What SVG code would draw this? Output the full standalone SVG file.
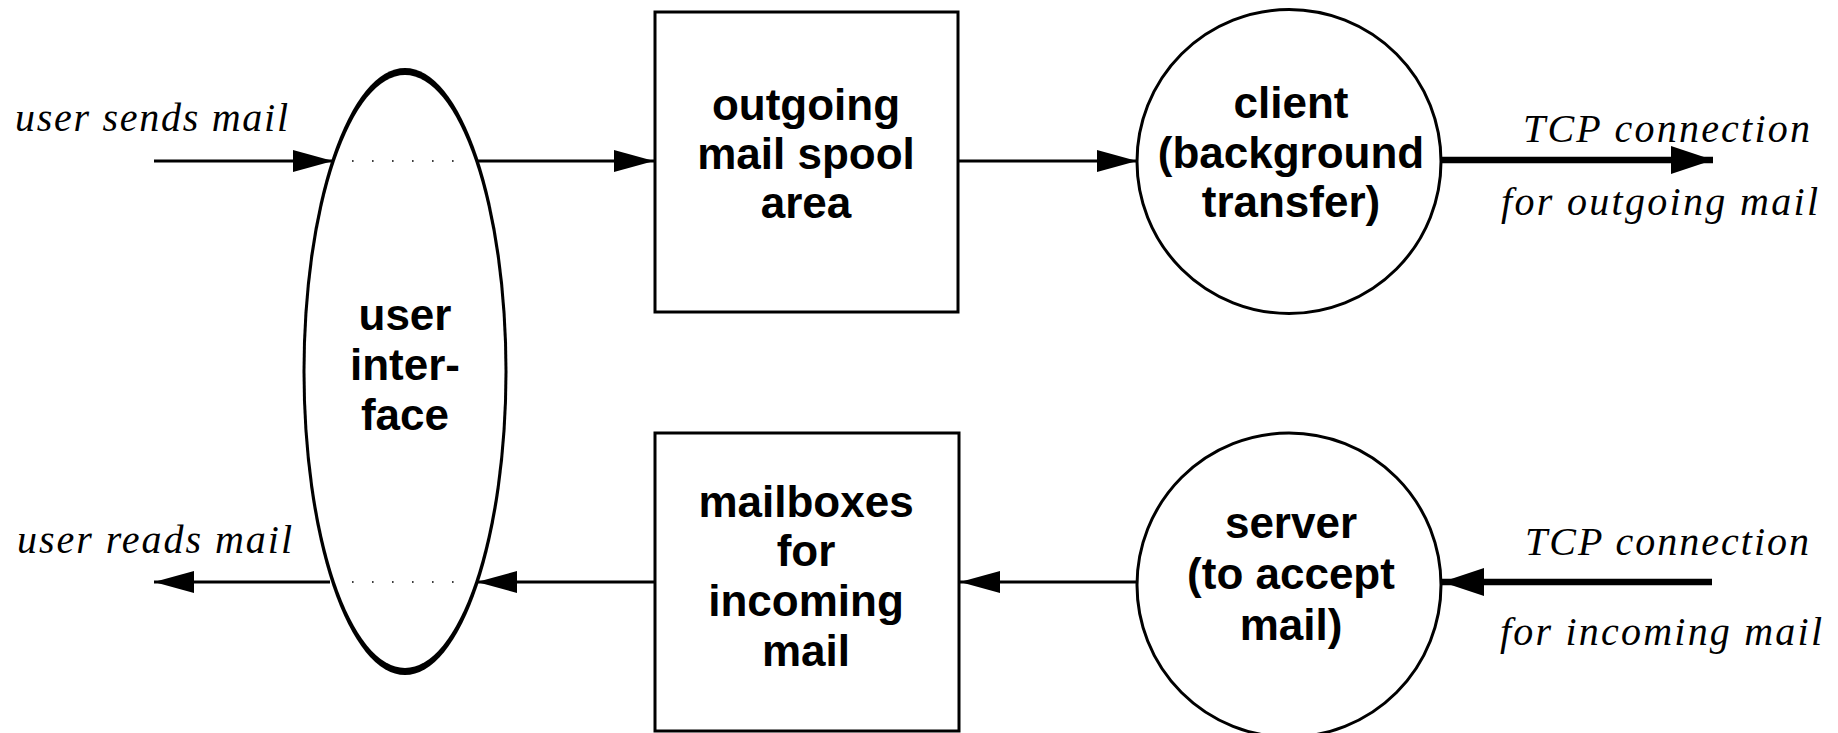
<svg xmlns="http://www.w3.org/2000/svg" width="1838" height="733" viewBox="0 0 1838 733">
<style>
.box{fill:#fff;stroke:#000;stroke-width:3}
.circ{fill:#fff;stroke:#000;stroke-width:3}
.lbl{font-family:"Liberation Sans",Arial,sans-serif;font-weight:bold;font-size:44px;text-anchor:middle;fill:#000}
.it{font-family:"Liberation Serif","Times New Roman",serif;font-style:italic;font-size:40px;fill:#000}
.thin{stroke:#000;stroke-width:3;fill:none;marker-end:url(#ah)}
.thick{stroke:#000;stroke-width:6.5;fill:none;marker-end:url(#ahb)}
.dot{stroke:#000;stroke-width:1.6;stroke-dasharray:1.6 18.4;fill:none}
</style>
<defs>
<marker id="ah" markerUnits="userSpaceOnUse" markerWidth="42" markerHeight="24" refX="40" refY="12" orient="auto">
<path d="M0,1 L40,12 L0,23 Z" fill="#000"/>
</marker>
<marker id="ahb" markerUnits="userSpaceOnUse" markerWidth="44" markerHeight="30" refX="42" refY="15" orient="auto">
<path d="M0,1 L42,15 L0,29 Z" fill="#000"/>
</marker>
</defs>
<rect width="1838" height="733" fill="#fff"/>

<g id="user-interface">
<ellipse cx="405" cy="371.5" rx="102.5" ry="303.5" fill="#000"/>
<ellipse cx="405" cy="371.5" rx="99.5" ry="296.5" fill="#fff"/>
<text class="lbl" x="405" y="330">user</text>
<text class="lbl" x="405" y="380">inter-</text>
<text class="lbl" x="405" y="430">face</text>
</g>

<g id="outgoing-spool">
<rect class="box" x="655" y="12" width="303" height="300"/>
<text class="lbl" x="806" y="120">outgoing</text>
<text class="lbl" x="806" y="169">mail spool</text>
<text class="lbl" x="806" y="218">area</text>
</g>

<g id="client">
<circle class="circ" cx="1289" cy="161.5" r="152"/>
<text class="lbl" x="1291" y="118">client</text>
<text class="lbl" x="1291" y="168">(background</text>
<text class="lbl" x="1291" y="217">transfer)</text>
</g>

<g id="mailboxes">
<rect class="box" x="655" y="433" width="304" height="298"/>
<text class="lbl" x="806" y="517">mailboxes</text>
<text class="lbl" x="806" y="566">for</text>
<text class="lbl" x="806" y="616">incoming</text>
<text class="lbl" x="806" y="666">mail</text>
</g>

<g id="server">
<circle class="circ" cx="1289" cy="585" r="152"/>
<text class="lbl" x="1291" y="538">server</text>
<text class="lbl" x="1291" y="589">(to accept</text>
<text class="lbl" x="1291" y="640">mail)</text>
</g>

<g id="labels">
<text class="it" x="15" y="131" textLength="273" lengthAdjust="spacing">user sends mail</text>
<text class="it" x="17" y="553" textLength="275" lengthAdjust="spacing">user reads mail</text>
<text class="it" x="1523" y="142" textLength="287" lengthAdjust="spacing">TCP connection</text>
<text class="it" x="1501" y="215" textLength="317" lengthAdjust="spacing">for outgoing mail</text>
<text class="it" x="1525" y="555" textLength="284" lengthAdjust="spacing">TCP connection</text>
<text class="it" x="1500" y="645" textLength="322" lengthAdjust="spacing">for incoming mail</text>
</g>

<g id="connectors">
<line class="thin" x1="154" y1="161" x2="333" y2="161"/>
<line class="dot" x1="352" y1="161" x2="470" y2="161"/>
<line class="thin" x1="477" y1="161" x2="654" y2="161"/>
<line class="thin" x1="958" y1="161" x2="1137" y2="161"/>
<line class="thick" x1="1442" y1="160" x2="1713" y2="160"/>
<line class="thick" x1="1712" y1="582" x2="1442" y2="582"/>
<line class="thin" x1="1137" y1="582" x2="960" y2="582"/>
<line class="thin" x1="655" y1="582" x2="477" y2="582"/>
<line class="dot" x1="352" y1="582" x2="470" y2="582"/>
<line class="thin" x1="330" y1="582" x2="154" y2="582"/>
</g>
</svg>
